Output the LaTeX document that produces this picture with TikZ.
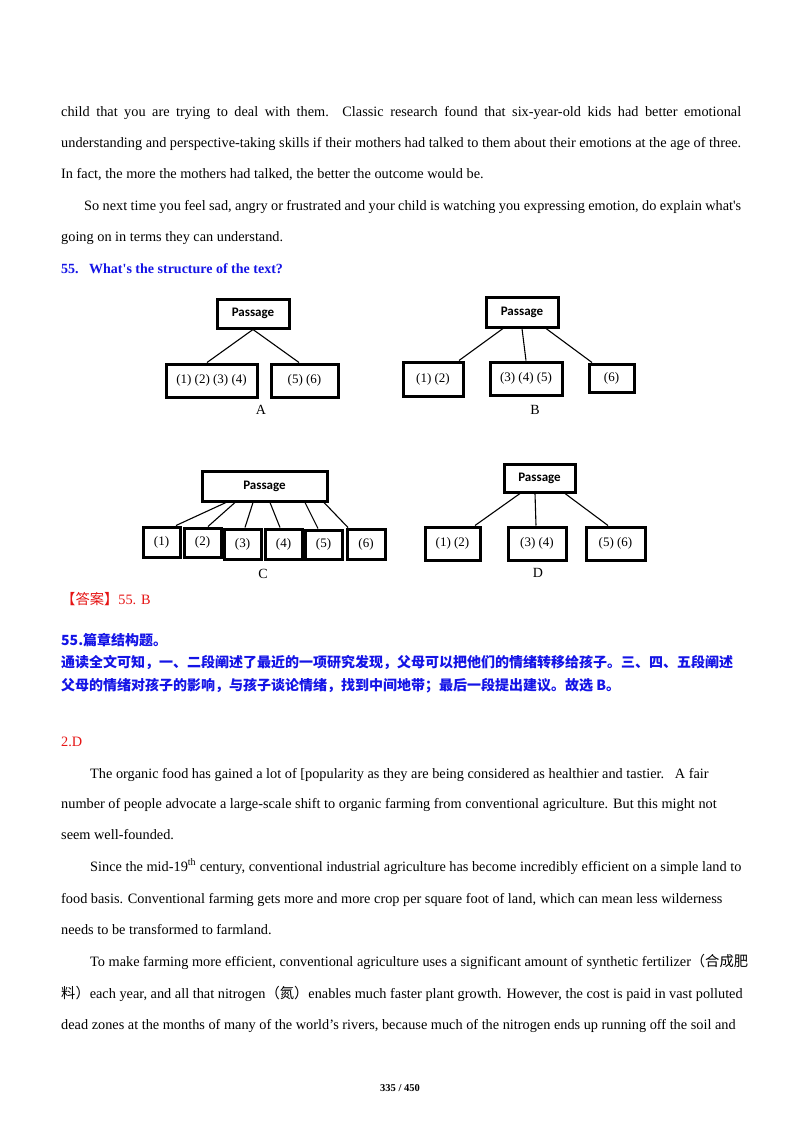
\documentclass[tikz,border=0pt]{standalone}
\usepackage{fontspec}
\setmainfont[Ligatures=TeXOff]{Liberation Serif}
\newfontfamily\cjk{Noto Sans CJK SC}
\newfontfamily\boxfont{Carlito}
\definecolor{qblue}{RGB}{20,20,230}
\definecolor{qred}{RGB}{230,20,20}
\begin{document}
\begin{tikzpicture}[x=1pt,y=-1pt,
  txt/.style={anchor=base west,inner sep=0pt,font=\fontsize{14.3}{16}\selectfont},
  cn/.style={anchor=base west,inner sep=0pt,font=\fontsize{14}{16}\selectfont\cjk\bfseries,text=qblue},
  bx/.style={draw,line width=3pt,inner sep=0pt,font=\fontsize{13}{14}\selectfont},
  pbx/.style={bx,font=\boxfont\bfseries\fontsize{13}{14}\selectfont},
  lnk/.style={line width=1.1pt},
  lab/.style={inner sep=0pt,font=\fontsize{14}{15}\selectfont}]
\fill[white] (0,0) rectangle (800,1132);
\useasboundingbox (0,0) rectangle (800,1132);
% passage 1
\node[txt] (l1) at (61,116) {\makebox[680pt][s]{child that you are trying to deal with them. Classic research found that six-year-old kids had better emotional}};
\node[txt] (l2) at (61,147) {\makebox[680pt][s]{understanding and perspective-taking skills if their mothers had talked to them about their emotions at the age of three.}};
\node[txt] (l3) at (61,178) {In fact, the more the mothers had talked, the better the outcome would be.};
\node[txt] (l4) at (84,210) {\makebox[657pt][s]{So next time you feel sad, angry or frustrated and your child is watching you expressing emotion, do explain what's}};
\node[txt] (l5) at (61,241) {going on in terms they can understand.};
\node[txt,text=qblue,font=\fontsize{14}{15}\selectfont\bfseries] (q) at (61,273) {55.\ \ \ What's the structure of the text?};
% A
\node[pbx,minimum width=72pt,minimum height=29pt] (pa) at (253,313.5) {Passage};
\node[bx,minimum width=91pt,minimum height=33pt] (a1) at (211.5,380.5) {(1) (2) (3) (4)};
\node[bx,minimum width=67pt,minimum height=33pt] (a2) at (304.5,380.5) {(5) (6)};
\draw[lnk] (pa.south) -- (a1.north -| 207,0);
\draw[lnk] (pa.south) -- (a2.north -| 299,0);
\node[lab] (la) at (261,410) {A};
% B
\node[pbx,minimum width=72pt,minimum height=30pt] (pb) at (522,312) {Passage};
\node[bx,minimum width=60pt,minimum height=34pt] (b1) at (433,379) {(1) (2)};
\node[bx,minimum width=72pt,minimum height=33pt] (b2) at (526,378.5) {(3) (4) (5)};
\node[bx,minimum width=45pt,minimum height=28pt] (b3) at (611.5,378) {(6)};
\draw[lnk] (pb.south -| 503,0) -- (b1.north -| 459,0);
\draw[lnk] (pb.south) -- (b2.north);
\draw[lnk] (pb.south -| 546,0) -- (b3.north -| 592,0);
\node[lab] (lb) at (535,410) {B};
% C
\node[pbx,minimum width=125pt,minimum height=30pt] (pc) at (264.5,486) {Passage};
\node[bx,minimum width=37pt,minimum height=30pt] (c1) at (161.5,542) {(1)};
\node[bx,minimum width=37pt,minimum height=29pt] (c2) at (202.5,542.5) {(2)};
\node[bx,minimum width=37pt,minimum height=30pt] (c3) at (242.5,544) {(3)};
\node[bx,minimum width=37pt,minimum height=30pt] (c4) at (283.5,544) {(4)};
\node[bx,minimum width=37pt,minimum height=29pt] (c5) at (323.5,544.5) {(5)};
\node[bx,minimum width=38pt,minimum height=30pt] (c6) at (366,544) {(6)};
\draw[lnk] (pc.south -| 226,0) -- (c1.north -| 176,0);
\draw[lnk] (pc.south -| 235,0) -- (c2.north -| 208,0);
\draw[lnk] (pc.south -| 253,0) -- (c3.north -| 245,0);
\draw[lnk] (pc.south -| 270,0) -- (c4.north -| 280,0);
\draw[lnk] (pc.south -| 305,0) -- (c5.north -| 318,0);
\draw[lnk] (pc.south -| 324,0) -- (c6.north -| 348,0);
\node[lab] (lc) at (263,574) {C};
% D
\node[pbx,minimum width=71pt,minimum height=28pt] (pd) at (539.5,478) {Passage};
\node[bx,minimum width=55pt,minimum height=33pt] (d1) at (452.5,543.5) {(1) (2)};
\node[bx,minimum width=58pt,minimum height=33pt] (d2) at (537,543.5) {(3) (4)};
\node[bx,minimum width=59pt,minimum height=33pt] (d3) at (615.5,543.5) {(5) (6)};
\draw[lnk] (pd.south -| 520,0) -- (d1.north -| 475,0);
\draw[lnk] (pd.south -| 535,0) -- (d2.north -| 536,0);
\draw[lnk] (pd.south -| 565,0) -- (d3.north -| 608,0);
\node[lab] (ld) at (538,573) {D};
% answer
\node[txt,text=qred] (ans) at (61,604) {{\cjk 【答案】}55. B};
\node[cn] (e1) at (61,645) {55.篇章结构题。};
\node[cn] (e2) at (61,667) {\makebox[680pt][s]{通读全文可知，一、二段阐述了最近的一项研究发现，父母可以把他们的情绪转移给孩子。三、四、五段阐述}};
\node[cn] (e3) at (61,690) {父母的情绪对孩子的影响，与孩子谈论情绪，找到中间地带；最后一段提出建议。故选 B。};
\node[txt,text=qred] (d) at (61,746) {2.D};
% passage 2
\node[txt] (m1) at (90,778) {The organic food has gained a lot of [popularity as they are being considered as healthier and tastier.\ \ \ A fair};
\node[txt] (m2) at (61,808) {number of people advocate a large-scale shift to organic farming from conventional agriculture. But this might not};
\node[txt] (m3) at (61,839) {seem well-founded.};
\node[txt] (m4) at (90,871) {Since the mid-19\textsuperscript{th} century, conventional industrial agriculture has become incredibly efficient on a simple land to};
\node[txt] (m5) at (61,903) {food basis. Conventional farming gets more and more crop per square foot of land, which can mean less wilderness};
\node[txt] (m6) at (61,934) {needs to be transformed to farmland.};
\node[txt] (m7) at (90,966) {To make farming more efficient, conventional agriculture uses a significant amount of synthetic fertilizer{\cjk （合成肥}};
\node[txt] (m8) at (61,998) {{\cjk 料）}each year, and all that nitrogen{\cjk （氮）}enables much faster plant growth. However, the cost is paid in vast polluted};
\node[txt] (m9) at (61,1029) {dead zones at the months of many of the world’s rivers, because much of the nitrogen ends up running off the soil and};
\node[anchor=base,inner sep=0pt,font=\fontsize{10.5}{12}\selectfont\bfseries] (pg) at (400,1091) {335 / 450};
\end{tikzpicture}
\end{document}
